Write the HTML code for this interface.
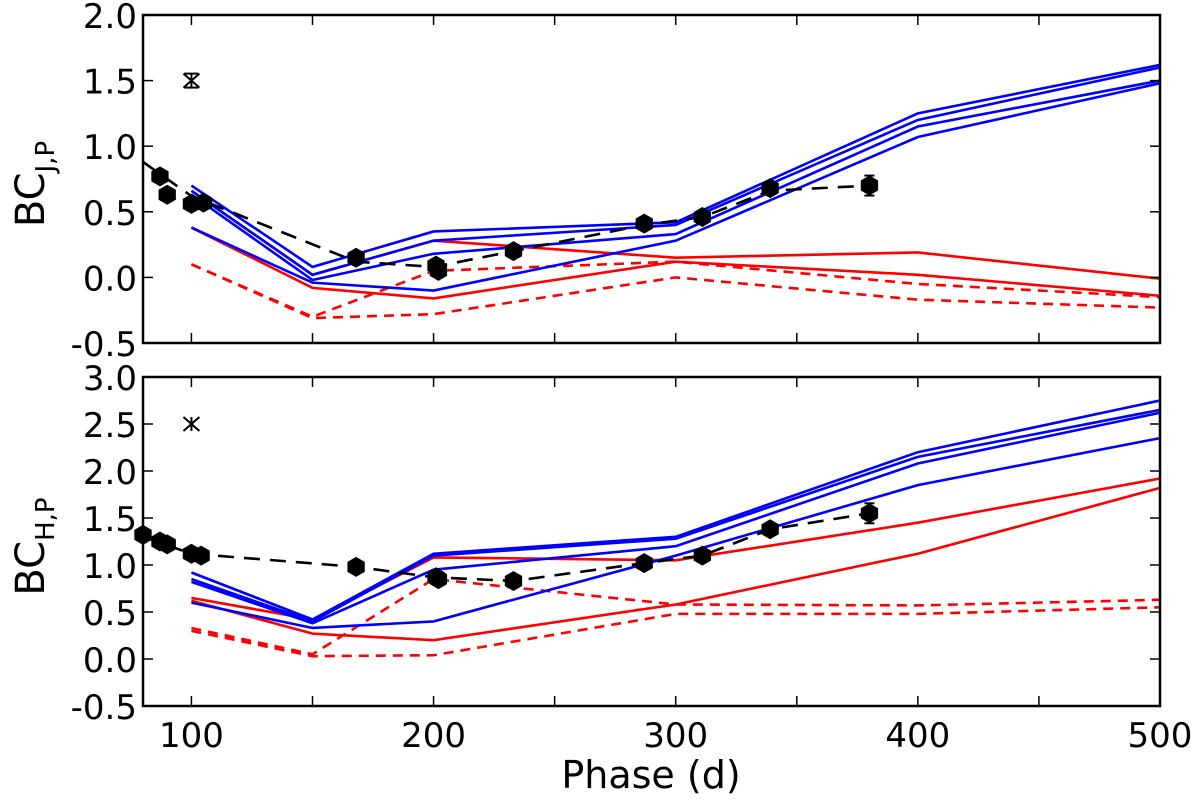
<!DOCTYPE html>
<html><head><meta charset="utf-8"><style>
body{margin:0;background:#fff;}
svg{display:block;font-family:"DejaVu Sans","Liberation Sans",sans-serif;}
</style></head><body>
<svg id="c" width="1200" height="800" viewBox="0 0 1200 800"></svg>
<script>
const phases=[100,150,200,300,400,500];
const topBlue=[[0.70,0.08,0.35,0.42,1.25,1.62],[0.66,0.02,0.28,0.40,1.20,1.60],[0.63,-0.02,0.18,0.33,1.15,1.50],[0.38,-0.04,-0.10,0.28,1.07,1.48]];
const topRed=[[0.66,0.02,0.28,0.15,0.19,-0.01],[0.38,-0.08,-0.16,0.12,0.02,-0.14]];
const topRedDash=[[0.10,-0.30,0.05,0.12,-0.05,-0.15],[0.10,-0.31,-0.28,0.00,-0.17,-0.23]];
const obsPhase=[87,90,100,105,168,201,202,233,287,311,339,380];
const topObs=[0.77,0.63,0.56,0.57,0.15,0.09,0.05,0.20,0.41,0.46,0.68,0.70];
const topFitX=[80,100,168,200,233,287,311,339,380];
const topFitY=[0.88,0.62,0.12,0.08,0.20,0.40,0.46,0.66,0.70];
const botBlue=[[0.92,0.42,1.12,1.30,2.20,2.75],[0.85,0.40,1.10,1.28,2.15,2.65],[0.82,0.38,0.95,1.20,2.08,2.62],[0.60,0.33,0.40,1.10,1.85,2.35]];
const botRed=[[0.65,0.42,1.08,1.05,1.45,1.92],[0.62,0.27,0.20,0.58,1.12,1.82]];
const botRedDash=[[0.33,0.05,0.85,0.58,0.57,0.63],[0.30,0.03,0.04,0.48,0.48,0.55]];
const botObsPhase=[80,87,90,100,104,168,201,202,233,287,311,339,380];
const botObs=[1.32,1.25,1.22,1.12,1.10,0.98,0.87,0.85,0.83,1.02,1.10,1.38,1.55];
const botFitX=[80,100,168,200,233,287,311,339,380];
const botFitY=[1.30,1.12,0.98,0.87,0.83,1.02,1.10,1.38,1.55];
const topTicks=["-0.5","0.0","0.5","1.0","1.5","2.0"];
const botTicks=["-0.5","0.0","0.5","1.0","1.5","2.0","2.5","3.0"];
const xTicks=[100,200,300,400,500];

const svg=document.getElementById('c');
const NS='http://www.w3.org/2000/svg';
function mk(t,a,p){const e=document.createElementNS(NS,t);for(const k in a)e.setAttribute(k,a[k]);(p||svg).appendChild(e);return e;}
const X0=143,X1=1160;
const sx=v=>X0+(v-80)/420*(X1-X0);

function panel(name,top,bot,ymin,ymax,ticks,blue,red,redDash,op,ov,fx,fy,mark,sub){
  const g=mk('g',{});
  
  
  const sy=v=>bot-(v-ymin)/(ymax-ymin)*(bot-top);
  const line=(xs,ys,col,dash,nm)=>{const p=mk('polyline',{points:xs.map((x,i)=>sx(x)+','+sy(ys[i])).join(' '),fill:'none',stroke:col,'stroke-width':2.6,'stroke-dasharray':dash||'none'},g);
    };
  redDash.forEach((s,i)=>line(phases,s,'#f00','10,7','red-dashed-model-'+i));
  red.forEach((s,i)=>line(phases,s,'#f00',null,'red-model-'+i));
  blue.forEach((s,i)=>line(phases,s,'#00f',null,'blue-model-'+i));
  line(fx,fy,'#000','16,10','observed-fit-line');
  op.forEach((x,i)=>{const cx=sx(x),cy=sy(ov[i]);const r=10;let pts=[];for(let k=0;k<6;k++){const a=Math.PI/6+k*Math.PI/3;pts.push((cx+r*Math.cos(a))+','+(cy+r*Math.sin(a)));}
    const h=mk('polygon',{points:pts.join(' '),fill:'#000'},g);});
  const ex=sx(op[op.length-1]),ey=sy(ov[ov.length-1]);
  mk('line',{x1:ex,x2:ex,y1:ey-10,y2:ey+10,stroke:'#000','stroke-width':2},g);
  mk('line',{x1:ex-5,x2:ex+5,y1:ey-10,y2:ey-10,stroke:'#000','stroke-width':2},g);
  mk('line',{x1:ex-5,x2:ex+5,y1:ey+10,y2:ey+10,stroke:'#000','stroke-width':2},g);
  const mx=sx(100),my=sy(mark);
  const m=mk('g',{stroke:'#000','stroke-width':2},g);
  mk('line',{x1:mx-8,y1:my-7,x2:mx+8,y2:my+7},m);mk('line',{x1:mx-8,y1:my+7,x2:mx+8,y2:my-7},m);mk('line',{x1:mx,y1:my-7,x2:mx,y2:my+7},m);
  if(name==='top-panel'){mk('line',{x1:mx-7,y1:my-7,x2:mx+7,y2:my-7},m);mk('line',{x1:mx-7,y1:my+7,x2:mx+7,y2:my+7},m);}
  mk('rect',{x:X0,y:top,width:X1-X0,height:bot-top,fill:'none',stroke:'#000','stroke-width':2.5},g);
  ticks.forEach(t=>{const y=sy(parseFloat(t));
    mk('line',{x1:X0,x2:X0+10,y1:y,y2:y,stroke:'#000','stroke-width':1.5},g);
    mk('line',{x1:X1-10,x2:X1,y1:y,y2:y,stroke:'#000','stroke-width':1.5},g);
    const tx=mk('text',{x:X0-6,y:y+13,'text-anchor':'end','font-size':34},g);tx.textContent=t;
    });
  for(let v=100;v<=500;v+=50){const x=sx(v);
    mk('line',{x1:x,x2:x,y1:bot,y2:bot-10,stroke:'#000','stroke-width':1.5},g);
    mk('line',{x1:x,x2:x,y1:top,y2:top+10,stroke:'#000','stroke-width':1.5},g);}
  const yl=mk('text',{transform:`translate(${44},${(top+bot)/2+5}) rotate(-90)`,'text-anchor':'middle','font-size':40},g);
  
  yl.innerHTML='BC<tspan font-size="26" dy="10">'+sub+'</tspan>';
  return sy;
}
panel('top-panel',15,343,-0.5,2.0,topTicks,topBlue,topRed,topRedDash,obsPhase,topObs,topFitX,topFitY,1.5,'J,P');
panel('bottom-panel',377,706,-0.5,3.0,botTicks,botBlue,botRed,botRedDash,botObsPhase,botObs,botFitX,botFitY,2.5,'H,P');
xTicks.forEach(v=>{const t=mk('text',{x:sx(v),y:747,'text-anchor':'middle','font-size':34});t.textContent=v;
  });
const xt=mk('text',{x:651,y:788,'text-anchor':'middle','font-size':38});xt.textContent='Phase (d)';

</script>
</body></html>
